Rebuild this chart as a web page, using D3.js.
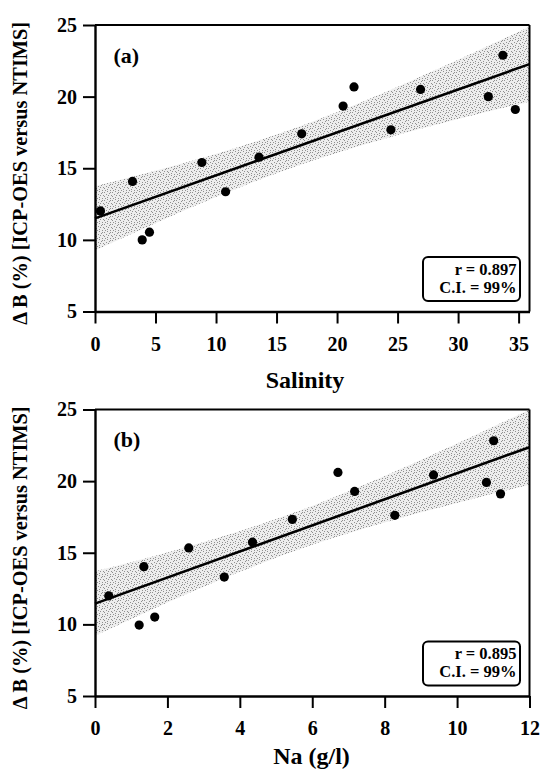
<!DOCTYPE html>
<html><head><meta charset="utf-8">
<script src="https://cdn.jsdelivr.net/npm/d3@7"></script>
<style>
html,body{margin:0;padding:0;background:#fff;}
svg{display:block;}
text{font-family:"Liberation Serif","Times New Roman",serif;font-weight:bold;fill:#000;}
</style></head>
<body>
<svg id="chart" width="540" height="769"></svg>
<script>
// ---- data ----
const salinity = [0.45, 3.1, 3.9, 4.5, 8.83, 10.79, 13.55, 17.08, 20.5, 21.4, 24.45, 26.9, 32.5, 33.7, 34.73];
const deltaB_a = [12.02, 14.08, 10.0, 10.54, 15.4, 13.36, 15.77, 17.4, 19.34, 20.68, 17.68, 20.5, 20.0, 22.89, 19.1];
const na = [0.38, 1.35, 1.22, 1.65, 2.59, 3.57, 4.35, 5.45, 7.17, 6.71, 8.28, 9.35, 10.81, 11.01, 11.2];
const deltaB_b = [11.99, 14.03, 9.95, 10.51, 15.34, 13.3, 15.74, 17.33, 19.28, 20.61, 17.61, 20.43, 19.91, 22.82, 19.11];

const fitA = {intercept: 11.5, slope: 0.30};
const fitB = {intercept: 11.45, slope: 0.91};

const bandX_a = [0, 6, 12, 18, 24, 30, 36];
const bandUpper_a = [13.75, 15.05, 16.52, 18.26, 20.32, 22.57, 24.92];
const bandLower_a = [9.25, 11.55, 13.68, 15.54, 17.08, 18.43, 19.68];
const bandX_b = [0, 2, 4, 6, 8, 10, 12];
const bandUpper_b = [13.7, 15.02, 16.51, 18.27, 20.35, 22.62, 24.99];
const bandLower_b = [9.2, 11.52, 13.67, 15.55, 17.11, 18.48, 19.75];

const xTicks_a = [0, 5, 10, 15, 20, 25, 30, 35];
const xTicks_b = [0, 2, 4, 6, 8, 10, 12];
const yTicks = [5, 10, 15, 20, 25];

const yLabel = "\u0394 B (%) [ICP-OES versus NTIMS]";
const xLabel_a = "Salinity";
const xLabel_b = "Na (g/l)";
const panelTag_a = "(a)";
const panelTag_b = "(b)";
const stats_a = ["r = 0.897", "C.I. = 99%"];
const stats_b = ["r = 0.895", "C.I. = 99%"];

// ---- drawing ----
const svg = d3.select("#chart");
const defs = svg.append("defs");
const pat = defs.append("pattern").attr("id","stipple").attr("patternUnits","userSpaceOnUse")
  .attr("width",8).attr("height",8);
pat.append("rect").attr("width",8).attr("height",8).attr("fill","#ededed");
[[0,0],[5,1],[2,2],[7,3],[3,5],[6,6],[1,6],[4,3],[0,4],[6,0],[3,7]].forEach(([px,py])=>{
  pat.append("rect").attr("x",px).attr("y",py).attr("width",1).attr("height",1).attr("fill","#909090");
});

const L = 95;
function panel(cfg){
  const g = svg.append("g");
  const x = d3.scaleLinear().domain(cfg.xDomain).range([L, cfg.right]);
  const y = d3.scaleLinear().domain([5,25]).range([cfg.bottom, cfg.top]);
  const clipId = "clip"+cfg.id;
  defs.append("clipPath").attr("id",clipId).append("rect")
    .attr("x",L).attr("y",cfg.top).attr("width",cfg.right-L).attr("height",cfg.bottom-cfg.top);

  const band = cfg.bandX.map((v,i)=>({x:v, u:cfg.upper[i], l:cfg.lower[i]}));
  g.append("path").datum(band)
    .attr("clip-path","url(#"+clipId+")")
    .attr("fill","url(#stipple)")
    .attr("d", d3.area().curve(d3.curveMonotoneX).x(d=>x(d.x)).y0(d=>y(d.l)).y1(d=>y(d.u)));

  const x0 = cfg.xDomain[0], x1 = cfg.xDomain[1];
  g.append("line")
    .attr("x1",x(x0)).attr("y1",y(cfg.fit.intercept + cfg.fit.slope*x0))
    .attr("x2",x(x1)).attr("y2",y(cfg.fit.intercept + cfg.fit.slope*x1))
    .attr("stroke","#000").attr("stroke-width",2.6);

  g.selectAll("circle.pt").data(cfg.xs.map((v,i)=>[v,cfg.ys[i]])).enter().append("circle")
    .attr("class","pt").attr("cx",d=>x(d[0])).attr("cy",d=>y(d[1])).attr("r",4.6).attr("fill","#000");

  // frame (top, right)
  g.append("line").attr("x1",L).attr("x2",cfg.right).attr("y1",cfg.top).attr("y2",cfg.top)
    .attr("stroke","#000").attr("stroke-width",2);
  g.append("line").attr("x1",cfg.right).attr("x2",cfg.right).attr("y1",cfg.top).attr("y2",cfg.bottom)
    .attr("stroke","#000").attr("stroke-width",2);

  const xAxis = g.append("g").attr("transform","translate(0,"+cfg.bottom+")")
    .call(d3.axisBottom(x).tickValues(cfg.xTicks).tickSize(12).tickSizeOuter(0));
  const yAxis = g.append("g").attr("transform","translate("+L+",0)")
    .call(d3.axisLeft(y).tickValues(yTicks).tickSize(12).tickPadding(6).tickSizeOuter(0));
  [xAxis,yAxis].forEach(a=>{
    a.select(".domain").attr("stroke","#000").attr("stroke-width",2.4);
    a.selectAll(".tick line").attr("stroke","#000").attr("stroke-width",2);
    a.selectAll(".tick text").attr("fill","#000").style("font-family",'"Liberation Serif",serif')
      .style("font-weight","bold").style("font-size","20px");
  });
  xAxis.selectAll(".tick text").attr("dy",null).attr("y",39);

  // panel tag
  g.append("text").attr("x",113.5).attr("y",cfg.top+37.5).style("font-size","22px").text(cfg.tag);

  // stats box
  g.append("rect").attr("x",423).attr("y",cfg.top+232).attr("width",97).attr("height",44)
    .attr("rx",5).attr("fill","#fff").attr("stroke","#000").attr("stroke-width",2);
  cfg.stats.forEach((s,i)=>{
    g.append("text").attr("x",516.5).attr("y",cfg.top+249.5+i*18).attr("text-anchor","end")
      .style("font-size","16.5px").text(s);
  });

  // x label
  g.append("text").attr("x",cfg.xlabX).attr("y",cfg.xlabY).attr("text-anchor","middle")
    .style("font-size","24px").text(cfg.xlabel);

  // y label
  const yl = g.append("text").attr("text-anchor","middle")
    .attr("transform","translate(27,"+(cfg.top+148.3)+") rotate(-90)")
    .style("font-size","19px").text(yLabel);
  const len = yl.node().getComputedTextLength();
  if (len>0) yl.style("font-size",(19*303/len).toFixed(2)+"px");
}

panel({id:"a", top:25, bottom:311.5, right:529.5, xDomain:[0,35.9], xTicks:xTicks_a,
  xs:salinity, ys:deltaB_a, fit:fitA, bandX:bandX_a, upper:bandUpper_a, lower:bandLower_a,
  tag:panelTag_a, stats:stats_a, xlabel:xLabel_a, xlabX:305, xlabY:388});
panel({id:"b", top:409.5, bottom:696, right:529.5, xDomain:[0,12], xTicks:xTicks_b,
  xs:na, ys:deltaB_b, fit:fitB, bandX:bandX_b, upper:bandUpper_b, lower:bandLower_b,
  tag:panelTag_b, stats:stats_b, xlabel:xLabel_b, xlabX:311.5, xlabY:764});
</script>
</body></html>
